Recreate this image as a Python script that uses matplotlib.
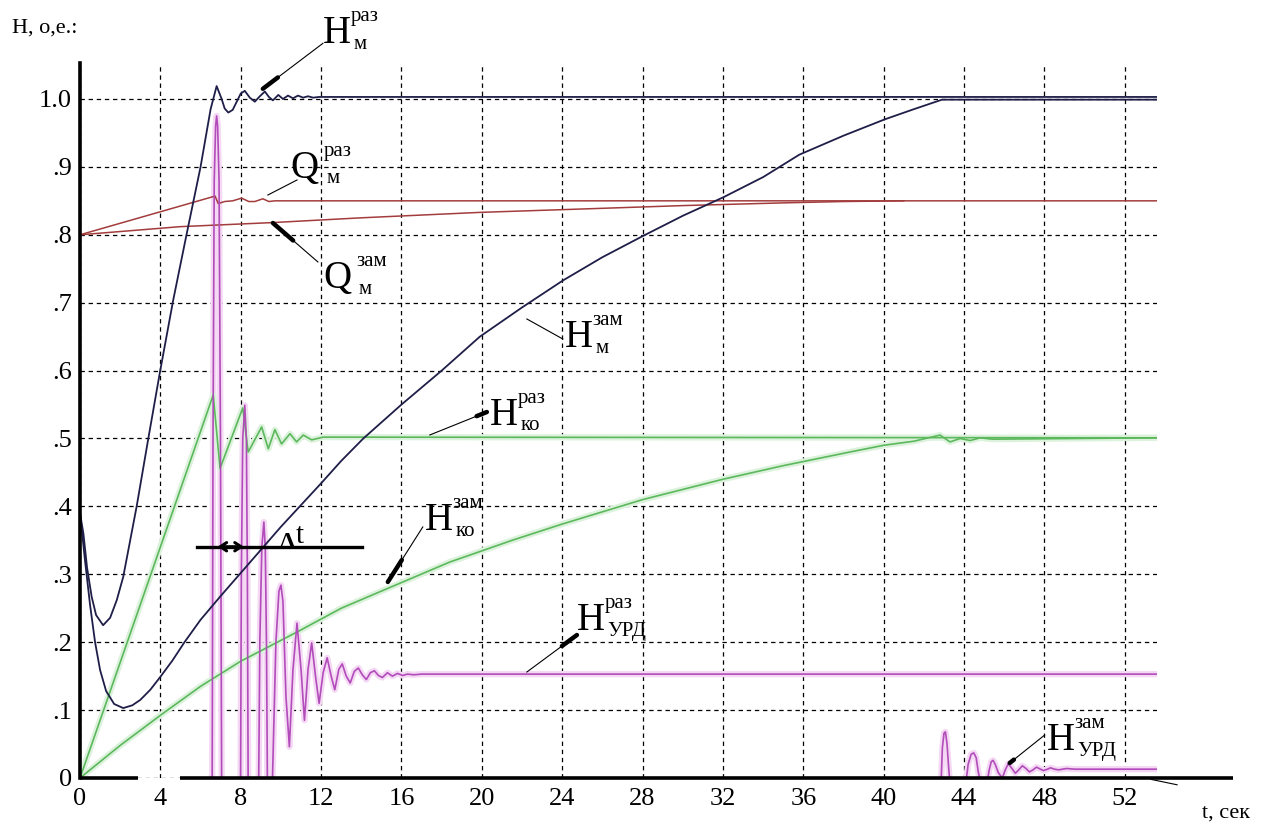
import numpy as np
import matplotlib.pyplot as plt

plt.rcParams['font.family'] = ['Liberation Serif', 'DejaVu Serif']

# H_m (open) - dark navy
t_hm_raz = [0, 0.17, 0.35, 0.58, 0.8, 1.15, 1.5, 1.83, 2.15, 2.82, 3.4, 3.98, 4.64, 5.3, 6.0, 6.5, 6.8,
            7.05, 7.2, 7.38, 7.6, 7.8, 8.0, 8.2, 8.45, 8.7, 8.95, 9.2, 9.4, 9.6, 9.87, 10.1, 10.35, 10.6,
            10.85, 11.1, 11.35, 11.6, 11.9, 53.6]
h_m_raz = [0.39, 0.36, 0.31, 0.267, 0.24, 0.225, 0.236, 0.262, 0.296, 0.4, 0.5, 0.598, 0.704, 0.8, 0.9,
           0.985, 1.019, 1.0, 0.986, 0.98, 0.984, 0.996, 1.008, 1.012, 1.002, 0.996, 1.004, 1.011, 1.003,
           0.998, 1.006, 1.0, 1.005, 1.001, 1.005, 1.002, 1.004, 1.002, 1.003, 1.003]

# H_m (closed)
t_hm_zam = [0, 0.25, 0.5, 0.75, 1.0, 1.3, 1.7, 2.15, 2.6, 3.0, 3.5, 4.0, 4.6, 5.2, 6.0, 7.0, 8.0, 9.0,
            10.0, 11.0, 12.0, 13.0, 14.1, 16.0, 18.0, 19.9, 22.0, 24.05, 26.0, 28.0, 30.0, 32.0, 34.0,
            35.8, 38.0, 40.05, 41.5, 42.9, 53.6]
h_m_zam = [0.39, 0.32, 0.255, 0.2, 0.159, 0.128, 0.109, 0.103, 0.107, 0.115, 0.13, 0.149, 0.173, 0.2,
           0.233, 0.268, 0.302, 0.336, 0.37, 0.402, 0.434, 0.467, 0.5, 0.55, 0.6, 0.65, 0.693, 0.733,
           0.767, 0.798, 0.828, 0.855, 0.885, 0.918, 0.946, 0.97, 0.985, 0.999, 0.999]

# Q_m - red
t_qm_raz = [0, 6.72, 6.88, 7.2, 7.6, 8.04, 8.4, 8.7, 9.1, 9.4, 9.7, 53.6]
q_m_raz = [0.8, 0.857, 0.846, 0.849, 0.85, 0.854, 0.849, 0.849, 0.853, 0.849, 0.85, 0.85]

t_qm_zam = [0, 5.0, 9.6, 14.0, 19.9, 25.0, 30.0, 35.0, 38.0, 41.0]
q_m_zam = [0.8, 0.812, 0.818, 0.825, 0.833, 0.838, 0.843, 0.847, 0.849, 0.85]

# H_ko - green
t_hko_raz = [0, 6.63, 6.97, 8.1, 8.37, 9.04, 9.37, 9.7, 10.03, 10.45, 10.78, 11.11, 11.53, 12.1, 53.6]
h_ko_raz = [0, 0.564, 0.456, 0.545, 0.48, 0.517, 0.485, 0.513, 0.492, 0.507, 0.495, 0.505, 0.498, 0.502, 0.501]

t_hko_zam = [0, 2, 4.03, 6, 8, 10.8, 13, 14.9, 18.4, 21.5, 24, 28, 32, 35, 38.3, 40, 41.5, 42.8, 43.3,
             43.8, 44.3, 44.8, 45.4, 53.6]
h_ko_zam = [0, 0.048, 0.093, 0.135, 0.172, 0.215, 0.25, 0.274, 0.318, 0.35, 0.374, 0.41, 0.44, 0.46, 0.48,
            0.49, 0.496, 0.505, 0.495, 0.5, 0.497, 0.501, 0.499, 0.501]

# H_urd - violet (zero before the first pulse; dips below zero are clipped by the axis)
t_hu_raz = [6.55, 6.57, 6.62, 6.68, 6.75, 6.8, 6.85, 6.92, 6.99, 7.06, 7.5, 7.98, 8.03, 8.1, 8.2, 8.28,
            8.33, 8.38, 8.6, 8.88, 8.95, 9.05, 9.15, 9.22, 9.28, 9.33, 9.45, 9.58, 9.75, 9.9, 10.0, 10.1,
            10.25, 10.42, 10.6, 10.8, 11.0, 11.17, 11.35, 11.53, 11.72, 11.9, 12.1, 12.3, 12.5, 12.68,
            12.88, 13.05, 13.25, 13.45, 13.65, 13.85, 14.05, 14.25, 14.45, 14.65, 14.85, 15.05, 15.3,
            15.55, 15.8, 16.05, 16.3, 16.6, 17.0, 53.6]
h_u_raz = [0, -0.1, 0.5, 0.88, 0.96, 0.975, 0.96, 0.88, 0.5, -0.1, -0.4, -0.1, 0.3, 0.5, 0.549, 0.5,
           0.3, -0.1, -0.25, -0.05, 0.2, 0.34, 0.377, 0.34, 0.2, -0.02, -0.08, 0.0, 0.2, 0.275, 0.284,
           0.26, 0.12, 0.046, 0.16, 0.228, 0.16, 0.085, 0.16, 0.199, 0.15, 0.11, 0.155, 0.177, 0.15,
           0.13, 0.16, 0.168, 0.15, 0.14, 0.157, 0.162, 0.152, 0.145, 0.155, 0.158, 0.151, 0.148, 0.155,
           0.15, 0.154, 0.151, 0.153, 0.152, 0.153, 0.153]

t_hu_zam = [42.85, 42.92, 43.0, 43.07, 43.15, 43.22, 43.3, 43.7, 44.1, 44.2, 44.35, 44.48, 44.6, 44.7,
            44.8, 45.15, 45.25, 45.35, 45.44, 45.55, 45.7, 45.9, 46.05, 46.2, 46.38, 46.55, 46.72, 46.9,
            47.08, 47.25, 47.43, 47.6, 47.8, 47.95, 48.15, 48.3, 48.5, 48.7, 48.9, 49.1, 49.5, 50, 53.6]
h_u_zam = [-0.01, 0.045, 0.066, 0.068, 0.05, 0.02, -0.01, -0.02, -0.005, 0.02, 0.035, 0.037, 0.03,
           0.01, -0.005, -0.005, 0.012, 0.024, 0.026, 0.02, 0.008, 0.0, 0.012, 0.021, 0.014, 0.007, 0.012,
           0.018, 0.014, 0.009, 0.012, 0.016, 0.013, 0.011, 0.013, 0.015, 0.013, 0.012, 0.013, 0.014,
           0.013, 0.013, 0.013]

x_ticks = list(range(0, 53, 4))
y_ticks = [0, 0.1, 0.2, 0.3, 0.4, 0.5, 0.6, 0.7, 0.8, 0.9, 1.0]
y_tick_labels = ['0', '.1', '.2', '.3', '.4', '.5', '.6', '.7', '.8', '.9', '1.0']

navy = '#1e1e48'
red = '#a33c3c'
green = '#5cb85c'
violet = '#b24cba'

fig = plt.figure(figsize=(12.79, 8.25), dpi=100)
ax = fig.add_axes([80 / 1279, 47 / 825, 1077 / 1279, 715 / 825])
ax.set_xlim(0, 53.6)
ax.set_ylim(0, 1.053)

ax.set_xticks(x_ticks)
ax.set_yticks(y_ticks)
ax.set_yticklabels(y_tick_labels)
ax.tick_params(length=0, labelsize=19)
ax.tick_params(axis='x', pad=7)
ax.tick_params(axis='y', pad=6)
ax.grid(True, color='black', lw=0.9, linestyle=(0, (3.5, 3)), zorder=0)
ax.set_axisbelow(True)
for s in ['top', 'right', 'bottom']:
    ax.spines[s].set_visible(False)
ax.spines['left'].set_linewidth(2.6)
ax.spines['left'].set_zorder(6)

# halos under the light lines
ax.plot(t_hu_raz, h_u_raz, color='#f4d8f4', lw=4.5, zorder=1)
ax.plot(t_hu_zam, h_u_zam, color='#f4d8f4', lw=4.5, zorder=1)
ax.plot(t_hko_raz, h_ko_raz, color='#ddf2dd', lw=4.5, zorder=1)
ax.plot(t_hko_zam, h_ko_zam, color='#ddf2dd', lw=4.5, zorder=1)

ax.plot(t_hko_raz, h_ko_raz, color=green, lw=1.2, zorder=2)
ax.plot(t_hko_zam, h_ko_zam, color=green, lw=1.2, zorder=2)
ax.plot(t_qm_raz, q_m_raz, color=red, lw=1.1, zorder=2)
ax.plot(t_qm_zam, q_m_zam, color=red, lw=1.1, zorder=2)
ax.plot(t_hu_raz, h_u_raz, color=violet, lw=1.2, zorder=3)
ax.plot(t_hu_zam, h_u_zam, color=violet, lw=1.2, zorder=3)
ax.plot(t_hm_raz, h_m_raz, color=navy, lw=1.3, zorder=4)
ax.plot(t_hm_zam, h_m_zam, color=navy, lw=1.3, zorder=4)

# bottom axis line (drawn by hand: it has a gap and runs past the grid)
ax.plot([0, 2.9], [0, 0], color='black', lw=2.6, clip_on=False, zorder=6, solid_capstyle='butt')
ax.plot([5.0, 57.4], [0, 0], color='black', lw=2.6, clip_on=False, zorder=6, solid_capstyle='butt')
ax.plot([53.3, 54.6], [-0.002, -0.010], color='black', lw=0.8, clip_on=False, zorder=6)


def label(x, y, main, sup, sub, dx=0):
    ax.text(x, y, main, fontsize=28, clip_on=False, zorder=7)
    ax.annotate(sup, (x, y), xytext=(20 + dx, 16), textcoords='offset points',
                fontsize=15, annotation_clip=False)
    ax.annotate(sub, (x, y), xytext=(22 + dx, -4), textcoords='offset points',
                fontsize=15, annotation_clip=False)


def pointer(x0, y0, x1, y1, frac=0.0, at_tip=True):
    ax.plot([x0, x1], [y0, y1], color='black', lw=0.8, clip_on=False, zorder=7)
    if frac:
        if at_tip:
            xa, ya, xb, yb = x1, y1, x0, y0
        else:
            xa, ya, xb, yb = x0, y0, x1, y1
        ax.plot([xa, xa + (xb - xa) * frac], [ya, ya + (yb - ya) * frac], color='black',
                lw=3.2, clip_on=False, zorder=7, solid_capstyle='round')


label(12.09, 1.0825, 'Н', 'раз', 'м')
pointer(12.09, 1.082, 9.10, 1.015, 0.25)

label(10.45, 0.884, 'Q', 'раз', 'м', dx=4)
pointer(10.80, 0.8807, 9.35, 0.8586)

label(12.09, 0.7216, 'Q', 'зам', 'м', dx=4)
pointer(11.84, 0.760, 9.60, 0.8174, 0.45)

label(24.13, 0.6348, 'Н', 'зам', 'м')
pointer(24.03, 0.6465, 22.24, 0.6760)

label(20.4, 0.52, 'Н', 'раз', 'ко')
pointer(20.25, 0.539, 17.41, 0.5052, 0.18, at_tip=False)

label(17.16, 0.3652, 'Н', 'зам', 'ко')
pointer(17.06, 0.3697, 15.32, 0.2887, 0.4)

label(24.73, 0.218, 'Н', 'раз', 'УРД')
pointer(24.73, 0.2106, 22.24, 0.1561, 0.3, at_tip=False)

label(48.11, 0.0412, 'Н', 'зам', 'УРД')
pointer(48.01, 0.0633, 46.27, 0.0221, 0.12)

# delta t marker
ax.plot([5.81, 14.01], [0.3406, 0.3406], color='black', lw=2.4, zorder=7)
ax.annotate('', xy=(6.85, 0.3406), xytext=(8.15, 0.3406),
            arrowprops=dict(arrowstyle='<->, head_length=0.45, head_width=0.3', lw=2.2,
                            color='black', shrinkA=0, shrinkB=0), zorder=7)
ax.text(9.95, 0.339, 'Δ', fontsize=17, fontweight='bold', zorder=7)
ax.text(10.75, 0.346, 't', fontsize=21, zorder=7)

fig.text(12 / 1279, (825 - 33) / 825, 'Н, о,е.:', fontsize=16)
fig.text(1202 / 1279, (825 - 818) / 825, 't, сек', fontsize=16)

fig.savefig('out.png', dpi=100, facecolor='white')
